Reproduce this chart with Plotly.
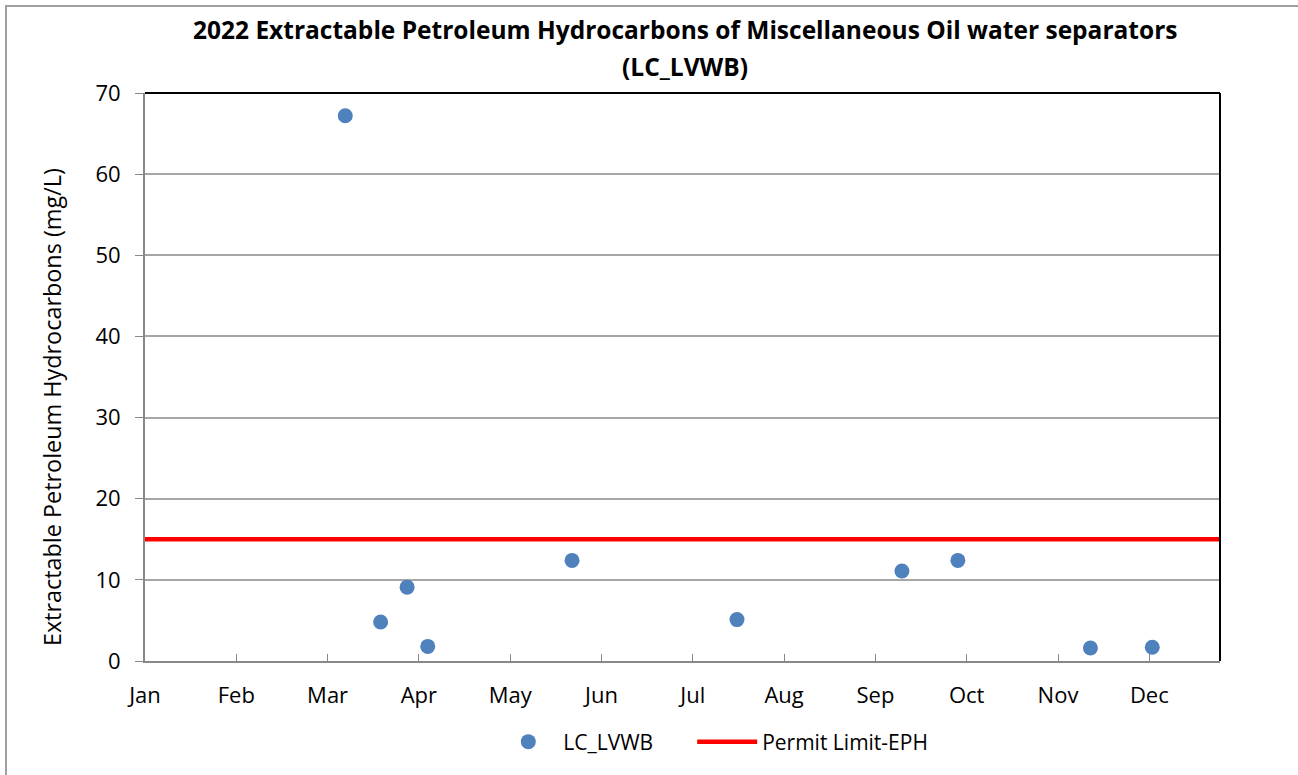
import plotly.graph_objects as go

# Data
sample_dates = ["2022-03-10", "2022-03-22", "2022-03-31", "2022-04-07", "2022-05-26",
                "2022-07-21", "2022-09-15", "2022-10-04", "2022-11-18", "2022-12-09"]
eph_values = [67.2, 4.8, 9.1, 1.8, 12.4, 5.1, 11.1, 12.4, 1.6, 1.7]

limit_dates = ["2022-01-01", "2023-01-01"]
limit_values = [15, 15]

tick_dates = ["2022-01-01", "2022-02-01", "2022-03-04", "2022-04-04", "2022-05-05", "2022-06-05",
              "2022-07-06", "2022-08-06", "2022-09-06", "2022-10-07", "2022-11-07", "2022-12-08"]
tick_labels = ["Jan", "Feb", "Mar", "Apr", "May", "Jun", "Jul", "Aug", "Sep", "Oct", "Nov", "Dec"]

title_line1 = "2022 Extractable Petroleum Hydrocarbons of Miscellaneous Oil water separators"
title_line2 = "(LC_LVWB)"
y_title = "Extractable Petroleum Hydrocarbons (mg/L)"

FONT = "Open Sans, sans-serif"

fig = go.Figure()
fig.add_trace(go.Scatter(
    x=sample_dates, y=eph_values, mode="markers", name="LC_LVWB",
    marker=dict(color="#4F81BD", size=15), legend="legend",
))
fig.add_trace(go.Scatter(
    x=limit_dates, y=limit_values, mode="lines", name="Permit Limit-EPH",
    line=dict(color="#FF0000", width=4.5), legend="legend2",
))

fig.update_layout(
    width=1298, height=775,
    paper_bgcolor="white", plot_bgcolor="white",
    margin=dict(l=145, r=78, t=93, b=114),
    font=dict(family=FONT, color="black", size=20),
    showlegend=True,
    legend=dict(orientation="h", x=0.324, xanchor="left", y=-0.1426, yanchor="middle",
                font=dict(size=21), itemwidth=60),
    legend2=dict(orientation="h", x=0.509, xanchor="left", y=-0.1426, yanchor="middle",
                 font=dict(size=21), itemwidth=60),
    xaxis=dict(
        type="date", range=["2022-01-01", "2023-01-01"],
        tickvals=tick_dates, ticktext=tick_labels,
        ticks="inside", ticklen=7, tickcolor="#888888", tickwidth=1,
        showline=True, linecolor="#888888", linewidth=2,
        showgrid=False, zeroline=False,
        tickfont=dict(size=22), ticklabelstandoff=14,
    ),
    yaxis=dict(
        range=[0, 70], dtick=10,
        ticks="outside", ticklen=8, tickcolor="#888888", tickwidth=1,
        showline=True, linecolor="#888888", linewidth=2,
        showgrid=True, gridcolor="#A6A6A6", gridwidth=1.5,
        zeroline=False,
        tickfont=dict(size=22), ticklabelstandoff=10,
    ),
    annotations=[
        dict(text="<b>" + title_line1 + "</b>", xref="paper", yref="paper", x=0.502, y=1.111,
             xanchor="center", yanchor="middle", showarrow=False, font=dict(size=24.5)),
        dict(text="<b>" + title_line2 + "</b>", xref="paper", yref="paper", x=0.502, y=1.0475,
             xanchor="center", yanchor="middle", showarrow=False, font=dict(size=24.5)),
        dict(text=y_title, xref="paper", yref="paper", x=-0.0865, y=0.447, textangle=-90,
             xanchor="center", yanchor="middle", showarrow=False, font=dict(size=23.4)),
    ],
    shapes=[
        dict(type="line", xref="paper", yref="paper", x0=0, x1=1, y0=1, y1=1,
             line=dict(color="black", width=2)),
        dict(type="line", xref="paper", yref="paper", x0=1, x1=1, y0=0, y1=1,
             line=dict(color="black", width=2)),
        dict(type="rect", xref="paper", yref="paper",
             x0=-139/1075, x1=1.2, y0=-0.3, y1=1 + 87/568,
             line=dict(color="#A0A0A0", width=2), fillcolor="rgba(0,0,0,0)", layer="below"),
    ],
)

fig.write_html("out.html", config={"displayModeBar": False},
               post_script="document.body.style.margin='0';")
